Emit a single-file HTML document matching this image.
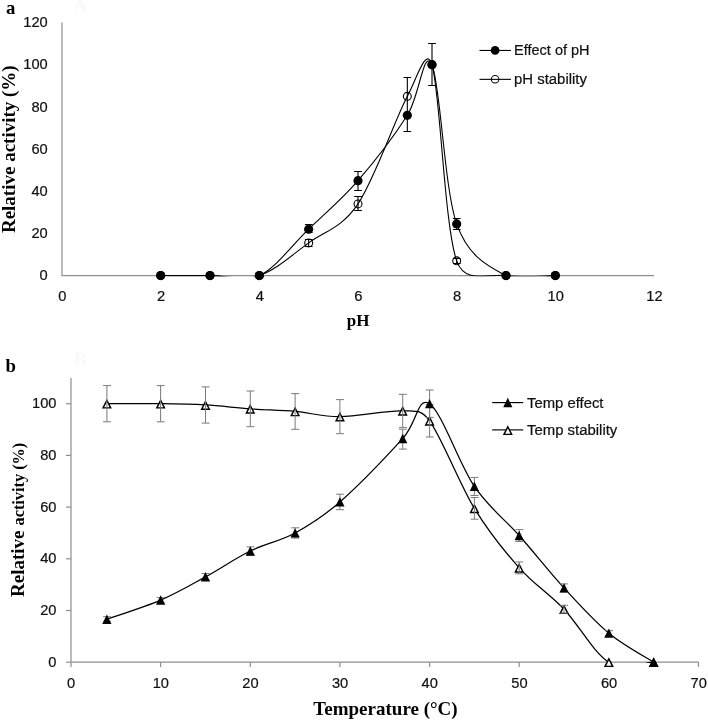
<!DOCTYPE html><html><head><meta charset="utf-8"><style>html,body{margin:0;padding:0;background:#fff;width:708px;height:720px;overflow:hidden}svg{display:block;will-change:transform}.t{font-family:"Liberation Sans",sans-serif;font-size:15.5px;fill:#111;stroke:#111;stroke-width:0.22px}.s{font-family:"Liberation Serif",serif;font-weight:bold;fill:#000}</style></head><body>
<svg width="708" height="720" viewBox="0 0 708 720">
<defs><clipPath id="ca"><rect x="62" y="0" width="600" height="276.3"/></clipPath><clipPath id="cb"><rect x="71" y="370" width="630" height="292.9"/></clipPath></defs>
<rect width="708" height="720" fill="#fff"/>
<text class="s" x="73.6" y="11.6" font-size="19" style="fill:#f9f9f9">A</text>
<text class="s" x="73.8" y="366.4" font-size="19" style="fill:#f9f9f9">B</text>
<text class="s" x="6" y="14.3" font-size="18.8">a</text>
<text class="s" x="5.6" y="371.9" font-size="18.8">b</text>
<g stroke="#8e8e8e" stroke-width="1.2" fill="none" stroke-linejoin="round">
<path d="M62.0,22.5V275.6H654.0"/>
</g>
<text class="t" transform="translate(47.70,280.32) scale(0.950,1)" text-anchor="end">0</text>
<text class="t" x="47.70" y="238.14" text-anchor="end" textLength="16.30" lengthAdjust="spacingAndGlyphs">20</text>
<text class="t" x="47.70" y="195.95" text-anchor="end" textLength="16.30" lengthAdjust="spacingAndGlyphs">40</text>
<text class="t" x="47.70" y="153.77" text-anchor="end" textLength="16.30" lengthAdjust="spacingAndGlyphs">60</text>
<text class="t" x="47.70" y="111.59" text-anchor="end" textLength="16.30" lengthAdjust="spacingAndGlyphs">80</text>
<text class="t" x="47.70" y="69.40" text-anchor="end" textLength="24.45" lengthAdjust="spacingAndGlyphs">100</text>
<text class="t" x="47.70" y="27.22" text-anchor="end" textLength="24.45" lengthAdjust="spacingAndGlyphs">120</text>
<text class="t" transform="translate(62.40,301.25) scale(0.950,1)" text-anchor="middle">0</text>
<text class="t" transform="translate(161.07,301.25) scale(0.950,1)" text-anchor="middle">2</text>
<text class="t" transform="translate(259.73,301.25) scale(0.950,1)" text-anchor="middle">4</text>
<text class="t" transform="translate(358.40,301.25) scale(0.950,1)" text-anchor="middle">6</text>
<text class="t" transform="translate(457.07,301.25) scale(0.950,1)" text-anchor="middle">8</text>
<text class="t" x="555.73" y="301.25" text-anchor="middle" textLength="16.30" lengthAdjust="spacingAndGlyphs">10</text>
<text class="t" x="654.40" y="301.25" text-anchor="middle" textLength="16.30" lengthAdjust="spacingAndGlyphs">12</text>
<text class="s" x="358.2" y="326.0" font-size="17" text-anchor="middle">pH</text>
<text class="s" font-size="19" transform="translate(14.6,149.2) rotate(-90)" text-anchor="middle">Relative activity (%)</text>
<g fill="none" stroke="#000">
<path stroke-width="1.1" d="M308.67,224.5V232.5"/>
<path stroke-width="1" d="M304.9,224.5H312.6M304.9,232.5H312.6"/>
<path stroke-width="1.1" d="M358.00,171.5V190.5"/>
<path stroke-width="1" d="M354.2,171.5H361.9M354.2,190.5H361.9"/>
<path stroke-width="1.1" d="M407.33,115.5V131.5"/>
<path stroke-width="1" d="M403.5,131.5H411.2"/>
<path stroke-width="1.1" d="M432.00,43.5V85.5"/>
<path stroke-width="1" d="M428.2,43.5H435.9M428.2,85.5H435.9"/>
<path stroke-width="1.1" d="M456.67,218.5V229.5"/>
<path stroke-width="1" d="M452.9,218.5H460.6M452.9,229.5H460.6"/>
<path stroke-width="1.1" d="M308.67,239.5V246.5"/>
<path stroke-width="1" d="M304.9,239.5H312.6M304.9,246.5H312.6"/>
<path stroke-width="1.1" d="M358.00,196.5V210.5"/>
<path stroke-width="1" d="M354.2,196.5H361.9M354.2,210.5H361.9"/>
<path stroke-width="1.1" d="M407.33,77.5V115.5"/>
<path stroke-width="1" d="M403.5,77.5H411.2M403.5,115.5H411.2"/>
<path stroke-width="1.1" d="M456.67,258.5V263.5"/>
<path stroke-width="1" d="M452.9,258.5H460.6M452.9,263.5H460.6"/>
</g>
<g clip-path="url(#ca)" stroke="#000" stroke-width="1.1" fill="none">
<path d="M160.67,275.60 C168.89,275.60 193.56,275.60 210.00,275.60 C226.44,275.60 242.89,283.33 259.33,275.60 C275.78,267.87 292.22,245.02 308.67,229.20 C325.11,213.38 341.56,199.67 358.00,180.69 C374.44,161.70 395.00,134.64 407.33,115.30 C419.67,95.97 423.78,46.58 432.00,64.68 C440.22,82.79 444.33,188.77 456.67,223.93 C468.49,257.63 489.56,266.99 506.00,275.60 C522.44,284.21 547.11,275.60 555.33,275.60"/>
<path d="M160.67,275.60 C168.89,275.60 193.56,275.60 210.00,275.60 C226.44,275.60 242.89,281.05 259.33,275.60 C275.78,270.15 292.22,254.86 308.67,242.91 C325.11,230.96 341.56,228.32 358.00,203.89 C374.44,179.46 395.00,119.52 407.33,96.32 C416.75,78.61 426.24,45.47 432.00,64.68 C440.22,92.10 444.33,225.68 456.67,260.84 C465.19,285.13 489.56,273.14 506.00,275.60 C522.44,278.06 547.11,275.60 555.33,275.60"/>
</g>
<circle cx="160.67" cy="275.60" r="3.95" fill="none" stroke="#000" stroke-width="1.1"/>
<circle cx="210.00" cy="275.60" r="3.95" fill="none" stroke="#000" stroke-width="1.1"/>
<circle cx="259.33" cy="275.60" r="3.95" fill="none" stroke="#000" stroke-width="1.1"/>
<circle cx="308.67" cy="242.91" r="3.95" fill="none" stroke="#000" stroke-width="1.1"/>
<circle cx="358.00" cy="203.89" r="3.95" fill="none" stroke="#000" stroke-width="1.1"/>
<circle cx="407.33" cy="96.32" r="3.95" fill="none" stroke="#000" stroke-width="1.1"/>
<circle cx="432.00" cy="64.68" r="3.95" fill="none" stroke="#000" stroke-width="1.1"/>
<circle cx="456.67" cy="260.84" r="3.95" fill="none" stroke="#000" stroke-width="1.1"/>
<circle cx="506.00" cy="275.60" r="3.95" fill="none" stroke="#000" stroke-width="1.1"/>
<circle cx="555.33" cy="275.60" r="3.95" fill="none" stroke="#000" stroke-width="1.1"/>
<circle cx="160.67" cy="275.60" r="4.6" fill="#000"/>
<circle cx="210.00" cy="275.60" r="4.6" fill="#000"/>
<circle cx="259.33" cy="275.60" r="4.6" fill="#000"/>
<circle cx="308.67" cy="229.20" r="4.6" fill="#000"/>
<circle cx="358.00" cy="180.69" r="4.6" fill="#000"/>
<circle cx="407.33" cy="115.30" r="4.6" fill="#000"/>
<circle cx="432.00" cy="64.68" r="4.6" fill="#000"/>
<circle cx="456.67" cy="223.93" r="4.6" fill="#000"/>
<circle cx="506.00" cy="275.60" r="4.6" fill="#000"/>
<circle cx="555.33" cy="275.60" r="4.6" fill="#000"/>
<g stroke="#000" stroke-width="1.1"><line x1="479.5" y1="50.45" x2="511" y2="50.45"/><line x1="479.5" y1="79.35" x2="511" y2="79.35"/></g>
<circle cx="495.1" cy="50.4" r="4.35" fill="#000"/>
<circle cx="495.1" cy="79.25" r="3.8" fill="none" stroke="#000" stroke-width="1.05"/>
<text class="t" x="514.1" y="54.8" font-size="14" textLength="75.4" lengthAdjust="spacingAndGlyphs">Effect of pH</text>
<text class="t" x="514.1" y="83.8" font-size="14" textLength="72.8" lengthAdjust="spacingAndGlyphs">pH stability</text>
<g stroke="#8e8e8e" stroke-width="1.2" fill="none">
<path d="M71.0,378V662.2H698.5"/>
<line x1="66.0" y1="662.2" x2="71.0" y2="662.2"/>
<line x1="66.0" y1="610.5" x2="71.0" y2="610.5"/>
<line x1="66.0" y1="558.8" x2="71.0" y2="558.8"/>
<line x1="66.0" y1="507.1" x2="71.0" y2="507.1"/>
<line x1="66.0" y1="455.4" x2="71.0" y2="455.4"/>
<line x1="66.0" y1="403.7" x2="71.0" y2="403.7"/>
<line x1="71.0" y1="662.2" x2="71.0" y2="666.9"/>
<line x1="160.6" y1="662.2" x2="160.6" y2="666.9"/>
<line x1="250.3" y1="662.2" x2="250.3" y2="666.9"/>
<line x1="339.9" y1="662.2" x2="339.9" y2="666.9"/>
<line x1="429.6" y1="662.2" x2="429.6" y2="666.9"/>
<line x1="519.2" y1="662.2" x2="519.2" y2="666.9"/>
<line x1="608.9" y1="662.2" x2="608.9" y2="666.9"/>
<line x1="698.5" y1="662.2" x2="698.5" y2="666.9"/>
</g>
<text class="t" transform="translate(56.50,666.65) scale(0.950,1)" text-anchor="end">0</text>
<text class="t" x="56.50" y="614.95" text-anchor="end" textLength="16.30" lengthAdjust="spacingAndGlyphs">20</text>
<text class="t" x="56.50" y="563.25" text-anchor="end" textLength="16.30" lengthAdjust="spacingAndGlyphs">40</text>
<text class="t" x="56.50" y="511.55" text-anchor="end" textLength="16.30" lengthAdjust="spacingAndGlyphs">60</text>
<text class="t" x="56.50" y="459.85" text-anchor="end" textLength="16.30" lengthAdjust="spacingAndGlyphs">80</text>
<text class="t" x="56.50" y="408.15" text-anchor="end" textLength="24.45" lengthAdjust="spacingAndGlyphs">100</text>
<text class="t" transform="translate(71.20,687.85) scale(0.950,1)" text-anchor="middle">0</text>
<text class="t" x="160.84" y="687.85" text-anchor="middle" textLength="16.30" lengthAdjust="spacingAndGlyphs">10</text>
<text class="t" x="250.49" y="687.85" text-anchor="middle" textLength="16.30" lengthAdjust="spacingAndGlyphs">20</text>
<text class="t" x="340.13" y="687.85" text-anchor="middle" textLength="16.30" lengthAdjust="spacingAndGlyphs">30</text>
<text class="t" x="429.77" y="687.85" text-anchor="middle" textLength="16.30" lengthAdjust="spacingAndGlyphs">40</text>
<text class="t" x="519.41" y="687.85" text-anchor="middle" textLength="16.30" lengthAdjust="spacingAndGlyphs">50</text>
<text class="t" x="609.06" y="687.85" text-anchor="middle" textLength="16.30" lengthAdjust="spacingAndGlyphs">60</text>
<text class="t" x="698.70" y="687.85" text-anchor="middle" textLength="16.30" lengthAdjust="spacingAndGlyphs">70</text>
<text class="s" x="385.5" y="714.5" font-size="19" text-anchor="middle">Temperature (°C)</text>
<text class="s" transform="translate(23.6,597) rotate(-90)"><tspan font-size="19">Relative</tspan><tspan font-size="16.3" dx="1"> activity (%)</tspan></text>
<g clip-path="url(#cb)" stroke="#000" stroke-width="1.25" fill="none">
<path d="M106.86,619.29 C115.82,616.10 144.21,607.23 160.64,600.16 C177.08,593.09 190.52,585.08 205.46,576.89 C220.40,568.71 235.35,558.37 250.29,551.05 C265.23,543.72 280.17,541.14 295.11,532.95 C310.05,524.76 322.00,517.66 339.93,501.93 C357.86,486.20 387.74,454.97 402.68,438.60 C417.53,422.33 417.62,395.73 429.57,403.70 C441.52,411.67 459.45,464.45 474.39,486.42 C489.33,508.39 504.27,518.60 519.21,535.53 C534.15,552.47 549.10,571.73 564.04,588.01 C578.98,604.30 593.92,620.88 608.86,633.25 C623.80,645.61 646.21,657.37 653.68,662.20"/>
<path d="M106.86,403.70 C115.82,403.70 144.21,403.48 160.64,403.70 C177.08,403.92 190.52,404.13 205.46,404.99 C220.40,405.85 235.35,407.79 250.29,408.87 C265.23,409.95 280.17,410.16 295.11,411.45 C310.05,412.75 322.00,416.73 339.93,416.62 C357.86,416.52 387.74,410.12 402.68,410.81 C417.00,411.47 421.08,409.21 429.57,420.76 C441.52,437.02 459.45,483.88 474.39,508.39 C489.33,532.91 504.27,551.05 519.21,567.85 C534.15,584.65 549.10,593.48 564.04,609.21 C578.98,624.93 593.92,653.37 608.86,662.20 C623.80,671.03 646.21,662.20 653.68,662.20"/>
</g>
<path d="M106.86,400.31L110.68,407.87L103.04,407.87Z" fill="#fff" stroke="#000" stroke-width="1.45" stroke-linejoin="miter" stroke-miterlimit="10"/>
<path d="M160.64,400.31L164.46,407.87L156.82,407.87Z" fill="#fff" stroke="#000" stroke-width="1.45" stroke-linejoin="miter" stroke-miterlimit="10"/>
<path d="M205.46,401.60L209.29,409.17L201.64,409.17Z" fill="#fff" stroke="#000" stroke-width="1.45" stroke-linejoin="miter" stroke-miterlimit="10"/>
<path d="M250.29,405.48L254.11,413.04L246.46,413.04Z" fill="#fff" stroke="#000" stroke-width="1.45" stroke-linejoin="miter" stroke-miterlimit="10"/>
<path d="M295.11,408.06L298.93,415.63L291.29,415.63Z" fill="#fff" stroke="#000" stroke-width="1.45" stroke-linejoin="miter" stroke-miterlimit="10"/>
<path d="M339.93,413.23L343.75,420.80L336.11,420.80Z" fill="#fff" stroke="#000" stroke-width="1.45" stroke-linejoin="miter" stroke-miterlimit="10"/>
<path d="M402.68,407.42L406.50,414.98L398.86,414.98Z" fill="#fff" stroke="#000" stroke-width="1.45" stroke-linejoin="miter" stroke-miterlimit="10"/>
<path d="M429.57,417.37L433.39,424.94L425.75,424.94Z" fill="#fff" stroke="#000" stroke-width="1.45" stroke-linejoin="miter" stroke-miterlimit="10"/>
<path d="M474.39,505.00L478.21,512.57L470.57,512.57Z" fill="#fff" stroke="#000" stroke-width="1.45" stroke-linejoin="miter" stroke-miterlimit="10"/>
<path d="M519.21,564.46L523.04,572.02L515.39,572.02Z" fill="#fff" stroke="#000" stroke-width="1.45" stroke-linejoin="miter" stroke-miterlimit="10"/>
<path d="M564.04,605.82L567.86,613.38L560.21,613.38Z" fill="#fff" stroke="#000" stroke-width="1.45" stroke-linejoin="miter" stroke-miterlimit="10"/>
<path d="M608.86,658.81L612.68,666.38L605.04,666.38Z" fill="#fff" stroke="#000" stroke-width="1.45" stroke-linejoin="miter" stroke-miterlimit="10"/>
<path d="M653.68,658.81L657.50,666.38L649.86,666.38Z" fill="#fff" stroke="#000" stroke-width="1.45" stroke-linejoin="miter" stroke-miterlimit="10"/>
<g stroke="#7a7a7a" stroke-width="1" fill="none">
<path d="M106.9,616.7V621.9M103.1,616.7H111.0M103.1,621.9H111.0"/>
<path d="M160.6,597.6V602.7M156.8,597.6H164.7M156.8,602.7H164.7"/>
<path d="M205.5,573.5V580.3M201.7,573.5H209.6M201.7,580.3H209.6"/>
<path d="M250.3,546.9V555.2M246.5,546.9H254.4M246.5,555.2H254.4"/>
<path d="M295.1,527.8V538.1M291.3,527.8H299.2M291.3,538.1H299.2"/>
<path d="M339.9,494.2V509.7M336.1,494.2H344.0M336.1,509.7H344.0"/>
<path d="M402.7,429.2V449.1M398.9,429.2H406.8M398.9,449.1H406.8"/>
<path d="M429.6,390.0V417.4M425.8,390.0H433.7M425.8,417.4H433.7"/>
<path d="M474.4,477.4V495.5M470.6,477.4H478.5M470.6,495.5H478.5"/>
<path d="M519.2,529.6V541.5M515.4,529.6H523.3M515.4,541.5H523.3"/>
<path d="M564.0,583.9V592.1M560.2,583.9H568.1M560.2,592.1H568.1"/>
<path d="M608.9,630.7V635.8M605.1,630.7H613.0M605.1,635.8H613.0"/>
<path d="M106.9,385.6V421.8M103.1,385.6H111.0M103.1,421.8H111.0"/>
<path d="M160.6,385.6V421.8M156.8,385.6H164.7M156.8,421.8H164.7"/>
<path d="M205.5,386.9V423.1M201.7,386.9H209.6M201.7,423.1H209.6"/>
<path d="M250.3,391.0V426.7M246.5,391.0H254.4M246.5,426.7H254.4"/>
<path d="M295.1,393.6V429.3M291.3,393.6H299.2M291.3,429.3H299.2"/>
<path d="M339.9,399.6V433.7M336.1,399.6H344.0M336.1,433.7H344.0"/>
<path d="M402.7,394.3V427.4M398.9,394.3H406.8M398.9,427.4H406.8"/>
<path d="M429.6,404.5V437.0M425.8,404.5H433.7M425.8,437.0H433.7"/>
<path d="M474.4,497.5V519.2M470.6,497.5H478.5M470.6,519.2H478.5"/>
<path d="M519.2,561.9V573.8M515.4,561.9H523.3M515.4,573.8H523.3"/>
<path d="M564.0,605.3V613.1M560.2,605.3H568.1M560.2,613.1H568.1"/>
</g>
<path d="M106.86,614.49L111.46,623.89L102.26,623.89Z" fill="#000"/>
<path d="M160.64,595.36L165.24,604.76L156.04,604.76Z" fill="#000"/>
<path d="M205.46,572.10L210.06,581.50L200.86,581.50Z" fill="#000"/>
<path d="M250.29,546.25L254.89,555.65L245.69,555.65Z" fill="#000"/>
<path d="M295.11,528.15L299.71,537.55L290.51,537.55Z" fill="#000"/>
<path d="M339.93,497.13L344.53,506.53L335.33,506.53Z" fill="#000"/>
<path d="M402.68,433.80L407.28,443.20L398.08,443.20Z" fill="#000"/>
<path d="M429.57,398.90L434.17,408.30L424.97,408.30Z" fill="#000"/>
<path d="M474.39,481.62L478.99,491.02L469.79,491.02Z" fill="#000"/>
<path d="M519.21,530.74L523.81,540.13L514.61,540.13Z" fill="#000"/>
<path d="M564.04,583.21L568.64,592.61L559.44,592.61Z" fill="#000"/>
<path d="M608.86,628.45L613.46,637.85L604.26,637.85Z" fill="#000"/>
<path d="M653.68,657.40L658.28,666.80L649.08,666.80Z" fill="#000"/>
<g stroke="#000" stroke-width="1.15"><line x1="492.2" y1="402.6" x2="523.2" y2="402.6"/><line x1="492.2" y1="429.9" x2="523.2" y2="429.9"/></g>
<path d="M507.80,397.80L512.40,407.20L503.20,407.20Z" fill="#000"/>
<path d="M507.80,426.81L511.62,434.37L503.98,434.37Z" fill="#fff" stroke="#000" stroke-width="1.45" stroke-linejoin="miter" stroke-miterlimit="10"/>
<text class="t" x="527.0" y="407.6" font-size="14" textLength="76.5" lengthAdjust="spacingAndGlyphs">Temp effect</text>
<text class="t" x="527.0" y="434.8" font-size="14" textLength="90.3" lengthAdjust="spacingAndGlyphs">Temp stability</text>
</svg></body></html>
